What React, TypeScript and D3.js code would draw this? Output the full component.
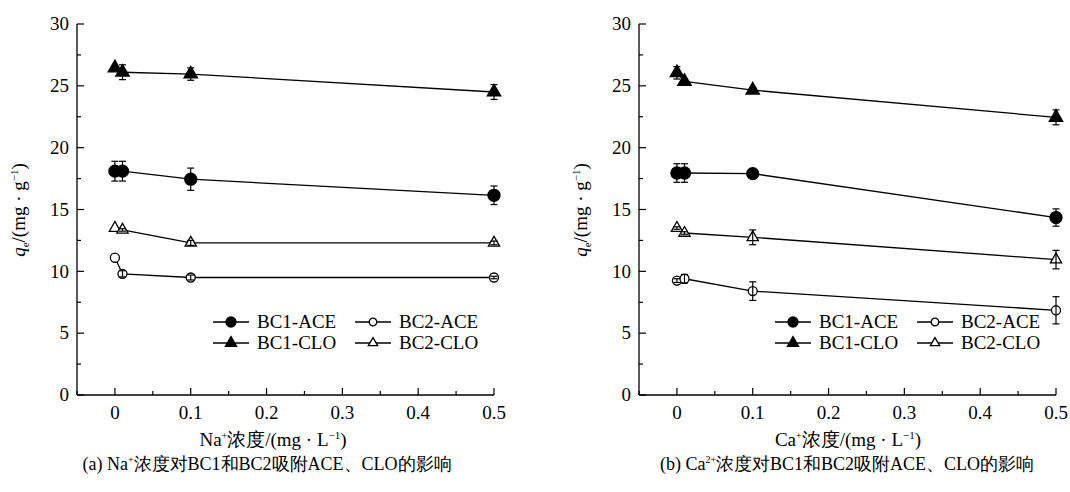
import React from "react";
import * as d3 from "d3";

// Concentration levels (mg/L)
const xValues = [0, 0.01, 0.1, 0.5];
const xTicks = [0, 0.1, 0.2, 0.3, 0.4, 0.5];
const yTicks = [0, 5, 10, 15, 20, 25, 30];

// Panel (a): Na+ influence
const naBC1ACE = [18.1, 18.1, 17.45, 16.15];
const naBC1ACEErr = [0.8, 0.8, 0.9, 0.75];
const naBC2ACE = [11.1, 9.8, 9.5, 9.5];
const naBC2ACEErr = [0, 0.25, 0.2, 0.1];
const naBC1CLO = [26.45, 26.1, 25.95, 24.5];
const naBC1CLOErr = [0, 0.6, 0.5, 0.6];
const naBC2CLO = [13.5, 13.35, 12.3, 12.3];
const naBC2CLOErr = [0, 0.1, 0.2, 0.15];

// Panel (b): Ca2+ influence
const caBC1ACE = [17.95, 17.95, 17.9, 14.35];
const caBC1ACEErr = [0.75, 0.75, 0.35, 0.7];
const caBC2ACE = [9.25, 9.4, 8.4, 6.85];
const caBC2ACEErr = [0.15, 0.35, 0.75, 1.1];
const caBC1CLO = [26.05, 25.35, 24.65, 22.45];
const caBC1CLOErr = [0.5, 0.2, 0.2, 0.6];
const caBC2CLO = [13.5, 13.1, 12.75, 10.95];
const caBC2CLOErr = [0.1, 0.1, 0.6, 0.75];

const seriesNames = ["BC1-ACE", "BC2-ACE", "BC1-CLO", "BC2-CLO"];

const FONT = "'Liberation Serif', 'Times New Roman', serif";

type Kind = "circleFilled" | "circleOpen" | "triFilled" | "triOpen";

const markerPath = (kind: Kind, scale = 1) => {
  const gen = d3.symbol();
  if (kind === "circleFilled") return gen.type(d3.symbolCircle).size(113 * scale)()!;
  if (kind === "circleOpen") return gen.type(d3.symbolCircle).size(64 * scale)()!;
  if (kind === "triFilled") return gen.type(d3.symbolTriangle).size(78 * scale)()!;
  return gen.type(d3.symbolTriangle).size(55 * scale)()!;
};

const Marker = ({ kind, x, y, scale = 1 }: { kind: Kind; x: number; y: number; scale?: number }) => {
  const filled = kind === "circleFilled" || kind === "triFilled";
  return (
    <path
      d={markerPath(kind, scale)}
      transform={`translate(${x},${y})`}
      fill={filled ? "#000" : "#fff"}
      stroke="#000"
      strokeWidth={1.3}
    />
  );
};

type Series = { values: number[]; errors: number[]; kind: Kind };

const Panel = ({
  left,
  series,
  ion,
  captionIon,
  tag,
  xTitleX,
  captionX,
}: {
  left: number;
  series: Series[];
  ion: string;
  captionIon: string;
  tag: string;
  xTitleX: number;
  captionX: number;
}) => {
  const x = d3.scaleLinear().domain([-0.05, 0.5]).range([left, left + 417]);
  const y = d3.scaleLinear().domain([0, 30]).range([395, 24]);
  const line = d3
    .line<number>()
    .x((_, i) => x(xValues[i]))
    .y((v) => y(v));
  const xMinor = d3.range(-0.05, 0.5001, 0.05).map((v) => +v.toFixed(2));
  const yMinor = d3.range(0, 30.001, 2.5);
  const cap = 3.5;

  const legendRows = [
    [0, 1],
    [2, 3],
  ];
  const legendKinds: Kind[] = ["circleFilled", "circleOpen", "triFilled", "triOpen"];

  return (
    <g style={{ fontFamily: FONT }} fill="#000">
      {/* axes */}
      <line x1={left} x2={left} y1={y(30)} y2={y(0)} stroke="#000" strokeWidth={1.3} />
      <line x1={left} x2={x(0.5)} y1={y(0)} y2={y(0)} stroke="#000" strokeWidth={1.3} />
      {yMinor.map((v) => (
        <line
          key={`ym${v}`}
          x1={left}
          x2={left + (v % 5 === 0 ? 7 : 4)}
          y1={y(v)}
          y2={y(v)}
          stroke="#000"
          strokeWidth={1.2}
        />
      ))}
      {xMinor.map((v) => (
        <line
          key={`xm${v}`}
          x1={x(v)}
          x2={x(v)}
          y1={y(0)}
          y2={y(0) - (Math.abs((v * 10) % 1) < 1e-6 ? 7 : 4)}
          stroke="#000"
          strokeWidth={1.2}
        />
      ))}
      {yTicks.map((v) => (
        <text key={`yl${v}`} x={left - 8} y={y(v)} dy="0.33em" textAnchor="end" fontSize={19}>
          {v}
        </text>
      ))}
      {xTicks.map((v) => (
        <text key={`xl${v}`} x={x(v)} y={419} textAnchor="middle" fontSize={19}>
          {v === 0 ? "0" : v.toFixed(1)}
        </text>
      ))}

      {/* y title */}
      <text
        transform={`translate(${left - 52},${210}) rotate(-90)`}
        textAnchor="middle"
        fontSize={19}
      >
        <tspan fontStyle="italic">q</tspan>
        <tspan fontSize={11} dy={4}>e</tspan>
        <tspan dy={-4}>/(mg · g</tspan>
        <tspan fontSize={11} dy={-7}>−1</tspan>
        <tspan dy={7}>)</tspan>
      </text>

      {/* x title */}
      <text x={xTitleX} y={446} textAnchor="middle" fontSize={19}>
        <tspan>{ion}</tspan>
        <tspan fontSize={10} dy={-7}>+</tspan>
        <tspan dy={7}>浓度/(mg · L</tspan>
        <tspan fontSize={11} dy={-7}>−1</tspan>
        <tspan dy={7}>)</tspan>
      </text>

      {/* caption */}
      <text x={captionX} y={470} textAnchor="middle" fontSize={18}>
        <tspan>{`(${tag}) ${ion}`}</tspan>
        <tspan fontSize={10} dy={-7}>{captionIon}</tspan>
        <tspan dy={7}>浓度对BC1和BC2吸附ACE、CLO的影响</tspan>
      </text>

      {/* series lines */}
      {series.map((s, si) => (
        <path key={`l${si}`} d={line(s.values)!} fill="none" stroke="#000" strokeWidth={1.3} />
      ))}
      {/* markers */}
      {series.map((s, si) =>
        s.values.map((v, i) => <Marker key={`m${si}-${i}`} kind={s.kind} x={x(xValues[i])} y={y(v)} />)
      )}
      {/* error bars */}
      {series.map((s, si) =>
        s.values.map((v, i) => {
          const e = s.errors[i];
          if (!e) return null;
          const cx = x(xValues[i]);
          return (
            <g key={`e${si}-${i}`} stroke="#000" strokeWidth={1.2}>
              <line x1={cx} x2={cx} y1={y(v - e)} y2={y(v + e)} />
              <line x1={cx - cap} x2={cx + cap} y1={y(v - e)} y2={y(v - e)} />
              <line x1={cx - cap} x2={cx + cap} y1={y(v + e)} y2={y(v + e)} />
            </g>
          );
        })
      )}

      {/* legend */}
      {legendRows.map((row, ri) =>
        row.map((si, ci) => {
          const lx = left + 136 + ci * 142;
          const ly = 322 + ri * 21;
          return (
            <g key={`lg${si}`}>
              <line x1={lx} x2={lx + 36} y1={ly} y2={ly} stroke="#000" strokeWidth={1.3} />
              <Marker kind={legendKinds[si]} x={lx + 18} y={ly} scale={0.7} />
              <text x={lx + 44} y={ly} dy="0.33em" fontSize={19}>
                {seriesNames[si]}
              </text>
            </g>
          );
        })
      )}
    </g>
  );
}

export default function App() {
  const naSeries: Series[] = [
    { values: naBC1ACE, errors: naBC1ACEErr, kind: "circleFilled" },
    { values: naBC2ACE, errors: naBC2ACEErr, kind: "circleOpen" },
    { values: naBC1CLO, errors: naBC1CLOErr, kind: "triFilled" },
    { values: naBC2CLO, errors: naBC2CLOErr, kind: "triOpen" },
  ];
  const caSeries: Series[] = [
    { values: caBC1ACE, errors: caBC1ACEErr, kind: "circleFilled" },
    { values: caBC2ACE, errors: caBC2ACEErr, kind: "circleOpen" },
    { values: caBC1CLO, errors: caBC1CLOErr, kind: "triFilled" },
    { values: caBC2CLO, errors: caBC2CLOErr, kind: "triOpen" },
  ];
  return (
    <svg
      width={1070}
      height={492}
      style={{ position: "absolute", left: 0, top: 0, background: "#fff" }}
    >
      <rect width={1070} height={492} fill="#fff" />
      <Panel left={77} series={naSeries} ion="Na" captionIon="+" tag="a" xTitleX={273} captionX={267} />
      <Panel left={639} series={caSeries} ion="Ca" captionIon="2+" tag="b" xTitleX={848} captionX={847} />
    </svg>
  );
}
